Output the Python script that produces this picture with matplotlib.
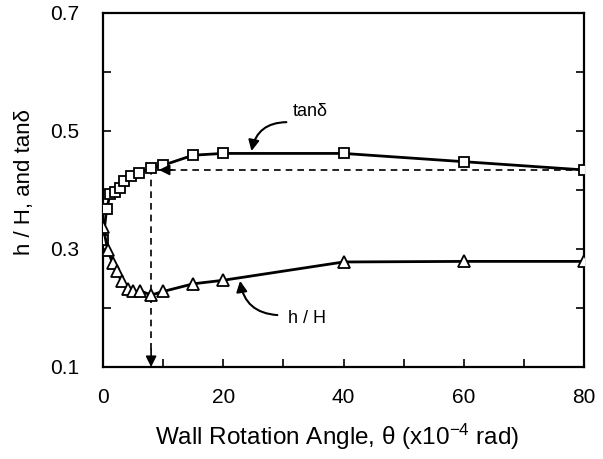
import matplotlib
matplotlib.use("Agg")
import matplotlib.pyplot as plt
from matplotlib.ticker import MultipleLocator

plt.rcParams['font.family'] = ['Liberation Sans', 'DejaVu Sans']
plt.rcParams['mathtext.fontset'] = 'custom'
plt.rcParams['mathtext.rm'] = 'Liberation Sans'
plt.rcParams['mathtext.it'] = 'Liberation Sans:italic'

# tan(delta) series (squares)
tan_x = [0, 0.6, 1.2, 2.0, 2.8, 3.5, 4.7, 6.0, 8.0, 10, 15, 20, 40, 60, 80]
tan_y = [0.315, 0.367, 0.394, 0.397, 0.404, 0.416, 0.424, 0.428, 0.438, 0.442,
         0.459, 0.462, 0.462, 0.448, 0.434]

# h/H series (triangles)
hH_x = [0, 0.8, 1.6, 2.3, 3.1, 4.2, 5.0, 6.2, 8.0, 10, 15, 20, 40, 60, 80]
hH_y = [0.338, 0.298, 0.276, 0.262, 0.245, 0.233, 0.228, 0.229, 0.222, 0.228,
        0.241, 0.247, 0.278, 0.279, 0.279]

# reference construction (dashed lines)
ref_theta = 8.0
ref_tan = 0.434

fig = plt.figure(figsize=(6.03, 4.59), dpi=100)
ax = fig.add_axes([103/603, 1-367/459, (584-103)/603, (367-13)/459])

ax.plot(tan_x, tan_y, '-', color='black', lw=2.0, marker='s', ms=7.5,
        mfc='white', mec='black', mew=1.3, zorder=3)
ax.plot(hH_x, hH_y, '-', color='black', lw=2.0, marker='^', ms=8.5,
        mfc='white', mec='black', mew=1.3, zorder=3)

# dashed horizontal line with arrow
ax.plot([80, 10.5], [ref_tan, ref_tan], ls=(0, (4, 3)), color='black', lw=1.2, zorder=2)
ax.annotate('', xy=(9.3, ref_tan), xytext=(11.5, ref_tan),
            arrowprops=dict(arrowstyle='-|>', color='black', lw=1.2,
                            mutation_scale=16, shrinkA=0, shrinkB=0))
# dashed vertical line with arrow
ax.plot([ref_theta, ref_theta], [0.438, 0.125], ls=(0, (4, 3)), color='black', lw=1.2, zorder=2)
ax.annotate('', xy=(ref_theta, 0.1), xytext=(ref_theta, 0.13),
            arrowprops=dict(arrowstyle='-|>', color='black', lw=1.2,
                            mutation_scale=16, shrinkA=0, shrinkB=0))

# labels with curved arrows
ax.text(31.5, 0.533, 'tanδ', fontsize=13, ha='left', va='center')
ax.annotate('', xy=(24.7, 0.466), xytext=(30.5, 0.515),
            arrowprops=dict(arrowstyle='-|>', color='black', lw=1.5,
                            mutation_scale=16, shrinkA=0, shrinkB=0,
                            connectionstyle='arc3,rad=0.4'))
ax.text(30.8, 0.183, 'h / H', fontsize=13, ha='left', va='center')
ax.annotate('', xy=(22.8, 0.246), xytext=(29.0, 0.188),
            arrowprops=dict(arrowstyle='-|>', color='black', lw=1.5,
                            mutation_scale=16, shrinkA=0, shrinkB=0,
                            connectionstyle='arc3,rad=-0.4'))

ax.set_xlim(0, 80)
ax.set_ylim(0.1, 0.7)
ax.xaxis.set_major_locator(MultipleLocator(20))
ax.xaxis.set_minor_locator(MultipleLocator(10))
ax.yaxis.set_major_locator(MultipleLocator(0.2))
ax.yaxis.set_minor_locator(MultipleLocator(0.1))
ax.tick_params(which='both', direction='in', right=True, top=False,
               labelsize=15, width=1.2)
ax.tick_params(which='major', length=6)
ax.tick_params(which='minor', length=6)
ax.tick_params(axis='x', which='major', pad=15)
ax.tick_params(axis='y', which='major', pad=17)
ax.set_yticks([0.1, 0.3, 0.5, 0.7])
ax.set_yticklabels(['0.1', '0.3', '0.5', '0.7'])
for s in ax.spines.values():
    s.set_linewidth(1.6)

fig.text(25/603, 1-182/459, 'h / H, and tanδ', rotation=90, fontsize=16,
         ha='center', va='center')
fig.text((103+584)/2/603 - 0.01, 1-437/459, 'Wall Rotation Angle, θ (x10$^{-4}$ rad)',
         fontsize=17.5, ha='center', va='center')

fig.savefig('out.png', dpi=100)
